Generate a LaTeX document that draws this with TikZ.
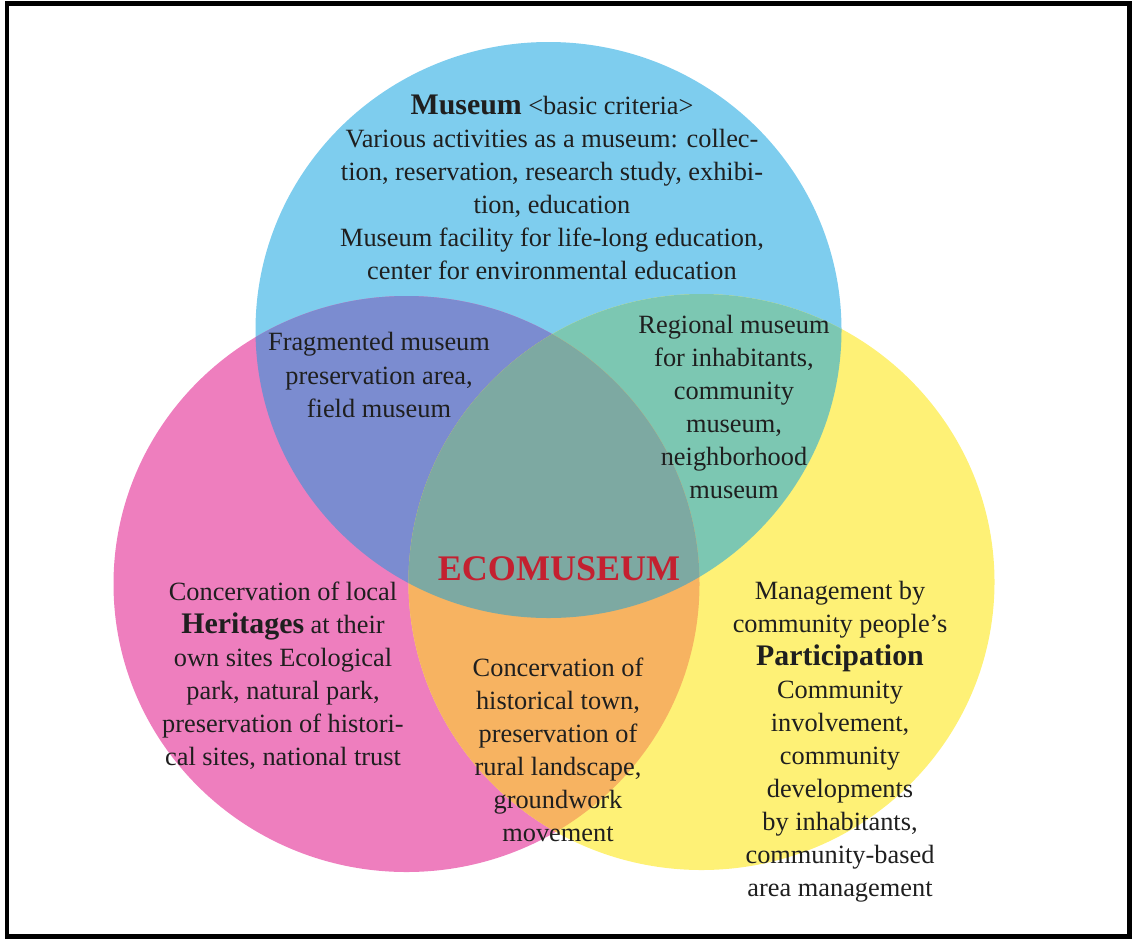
\documentclass[tikz,border=0pt]{standalone}
\usepackage{fontspec}
\setmainfont{Liberation Serif}

\definecolor{museumblue}{HTML}{7ECDEE}
\definecolor{heritagepink}{HTML}{EE7EBE}
\definecolor{participationyellow}{HTML}{FEF176}
\definecolor{fieldviolet}{HTML}{7B8CD0}
\definecolor{regionalgreen}{HTML}{7CC7B2}
\definecolor{townorange}{HTML}{F7B361}
\definecolor{ecogrey}{HTML}{7DA9A2}
\definecolor{ecored}{HTML}{C42030}

\newcommand{\keyword}[1]{{\bfseries\fontsize{17}{18.8}\selectfont #1}}

\begin{document}
\begin{tikzpicture}[x=0.02cm,y=-0.02cm,
	setshape/.style={x radius=293,y radius=288},
	every node/.style={align=center,text=black!88,font=\fontsize{15}{18.8}\selectfont}]
	\useasboundingbox (0,0) rectangle (1138,940);

	% centres of the three sets
	\coordinate (museum) at (548.5,330);
	\coordinate (heritage) at (406.5,584);
	\coordinate (participation) at (701.5,582);

	% the sets
	\fill[museumblue] (museum) circle [setshape];
	\fill[heritagepink] (heritage) circle [setshape];
	\fill[participationyellow] (participation) circle [setshape];

	% overlaps
	\begin{scope}
		\clip (museum) circle [setshape];
		\fill[fieldviolet] (heritage) circle [setshape];
		\fill[regionalgreen] (participation) circle [setshape];
	\end{scope}
	\begin{scope}
		\clip (heritage) circle [setshape];
		\fill[townorange] (participation) circle [setshape];
	\end{scope}
	\begin{scope}
		\clip (museum) circle [setshape];
		\clip (heritage) circle [setshape];
		\fill[ecogrey] (participation) circle [setshape];
	\end{scope}

	% frame
	\draw[line width=0.1cm] (7,3) rectangle (1129,936);

	% museum
	\node (museumtext) at (552,187) {\keyword{Museum} <basic criteria>\\
		Various activities as a museum: collec-\\
		tion, reservation, research study, exhibi-\\
		tion, education\\
		Museum facility for life-long education,\\
		center for environmental education};

	% museum and heritages
	\node (fieldtext) at (379,375) {Fragmented museum\\ preservation area,\\ field museum};

	% museum and participation
	\node (regionaltext) at (734,407) {Regional museum\\ for inhabitants,\\ community\\ museum,\\ neighborhood\\ museum};

	% all three
	\node[text=ecored,font=\bfseries\fontsize{20.5}{24}\selectfont] (ecotext) at (559,569) {ECOMUSEUM};

	% heritages and participation
	\node (towntext) at (558,750) {Concervation of\\ historical town,\\ preservation of\\ rural landscape,\\ groundwork\\ movement};

	% heritages
	\node (heritagetext) at (283,676) {Concervation of local\\
		\keyword{Heritages} at their\\
		own sites Ecological\\
		park, natural park,\\
		preservation of histori-\\
		cal sites, national trust};

	% participation
	\node (participationtext) at (840,742) {Management by\\
		community people’s\\
		\keyword{Participation}\\
		Community\\
		involvement,\\
		community\\
		developments\\
		by inhabitants,\\
		community-based\\
		area management};

\end{tikzpicture}
\end{document}
